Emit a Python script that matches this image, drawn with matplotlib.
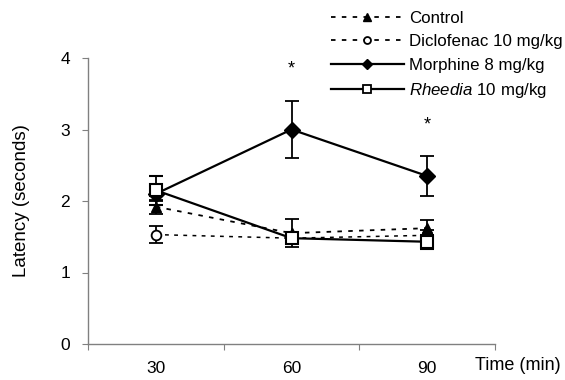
import matplotlib
matplotlib.use("Agg")
import matplotlib.pyplot as plt
from matplotlib.lines import Line2D

plt.rcParams['font.family'] = ['Liberation Sans', 'DejaVu Sans']
plt.rcParams['mathtext.fontset'] = 'custom'
plt.rcParams['mathtext.rm'] = 'Liberation Sans'
plt.rcParams['mathtext.it'] = 'Liberation Sans:italic'

categories = ["30", "60", "90"]
control = [1.92, 1.55, 1.62]
control_err = [0.10, 0.20, 0.12]
diclofenac = [1.53, 1.48, 1.52]
diclofenac_err = [0.12, 0.06, 0.08]
morphine = [2.10, 3.00, 2.35]
morphine_err = [0.10, 0.40, 0.28]
rheedia = [2.15, 1.48, 1.43]
rheedia_err = [0.20, 0.05, 0.10]
star_positions = [1, 2]
star_heights = [3.85, 3.07]
legend_labels = ['Control', 'Diclofenac 10 mg/kg', 'Morphine 8 mg/kg', '$\\mathit{Rheedia}$ 10 mg/kg']

fig = plt.figure(figsize=(5.65, 3.8), dpi=100)
ax = fig.add_axes([88/565, 1-344/380, (495-88)/565, (344-58)/380])

x = list(range(len(categories)))
cap = 5
dash = (0, (2.5, 3.5))

ax.errorbar(x, diclofenac, yerr=diclofenac_err, color='black', lw=1.1, ls=dash,
            marker='o', ms=7, mfc='white', mec='black', mew=1.3,
            capsize=cap, capthick=1.3, elinewidth=1.3, zorder=3)
ax.errorbar(x, control, yerr=control_err, color='black', lw=1.3, ls=dash,
            marker='^', ms=7.5, mfc='black', mec='black',
            capsize=cap, capthick=1.3, elinewidth=1.3, zorder=4)
ax.errorbar(x, morphine, yerr=morphine_err, color='black', lw=1.6, ls='-',
            marker='D', ms=8.5, mfc='black', mec='black',
            capsize=cap, capthick=1.3, elinewidth=1.3, zorder=5)
ax.errorbar(x, rheedia, yerr=rheedia_err, color='black', lw=1.6, ls='-',
            marker='s', ms=9, mfc='white', mec='black', mew=1.5,
            capsize=cap, capthick=1.3, elinewidth=1.3, zorder=6)

for xp, yp in zip(star_positions, star_heights):
    ax.text(xp, yp, '*', ha='center', va='center', fontsize=13)

ax.set_xlim(-0.5, len(categories) - 0.5)
ax.set_ylim(0, 4)
ax.set_yticks([0, 1, 2, 3, 4])
ax.set_xticks([i - 0.5 for i in range(len(categories) + 1)])
ax.set_xticklabels([])
ax.set_xticks(x, minor=True)
ax.set_xticklabels(categories, minor=True)
ax.tick_params(axis='x', which='minor', length=0, labelsize=12.5, pad=12)
ax.tick_params(axis='x', which='major', length=4, direction='out', color='#808080')
ax.tick_params(axis='y', length=4, direction='out', color='#808080', labelsize=12.5, pad=9)

for s in ['top', 'right']:
    ax.spines[s].set_visible(False)
for s in ['left', 'bottom']:
    ax.spines[s].set_color('#808080')
    ax.spines[s].set_linewidth(1.0)

ax.set_ylabel('Latency (seconds)', fontsize=13.5, labelpad=22)
fig.text(561/565, 1-366/380, 'Time (min)', ha='right', va='center', fontsize=13)

leg_handles = [
    Line2D([], [], color='black', lw=1.3, ls=dash, marker='^', ms=6, mfc='black'),
    Line2D([], [], color='black', lw=1.3, ls=dash, marker='o', ms=5, mfc='white', mew=1.3),
    Line2D([], [], color='black', lw=1.6, ls='-', marker='D', ms=5, mfc='black'),
    Line2D([], [], color='black', lw=1.6, ls='-', marker='s', ms=6, mfc='white', mew=1.3),
]
fig.legend(leg_handles, legend_labels, loc='upper left', bbox_to_anchor=(324/565, 0.99),
           frameon=False, fontsize=12.2, handlelength=4.3, handletextpad=0.3,
           labelspacing=0.5, numpoints=1, borderaxespad=0.2, borderpad=0.2)

fig.savefig('out.png', dpi=100)
